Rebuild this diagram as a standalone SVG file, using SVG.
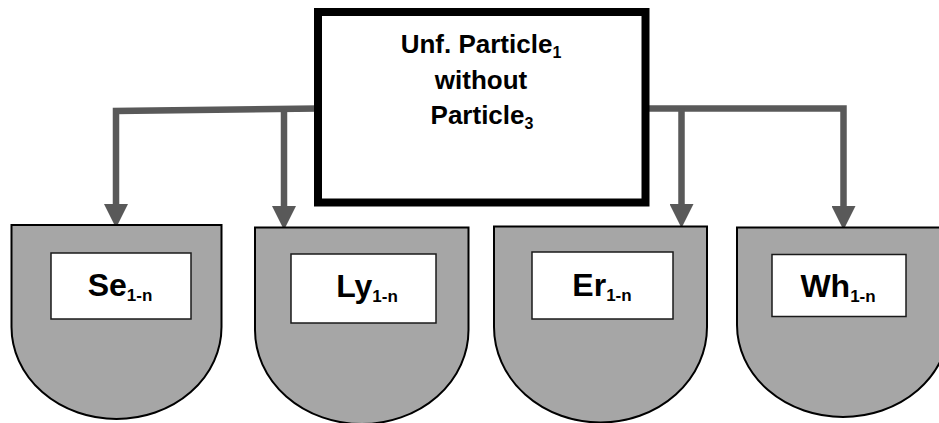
<svg xmlns="http://www.w3.org/2000/svg" width="939" height="423" viewBox="0 0 939 423">
<style>
.shape{fill:#a6a6a6;stroke:#000;stroke-width:2}
.inner{fill:#fff;stroke:#1a1a1a;stroke-width:1.5}
.lbl{font-family:"Liberation Sans",Arial,sans-serif;font-weight:bold;font-size:32px;fill:#000;text-anchor:middle}
.sub{font-size:17px}
.title{font-family:"Liberation Sans",Arial,sans-serif;font-weight:bold;font-size:26px;fill:#000;text-anchor:middle}
.tsub{font-size:16px}
.conn{fill:none;stroke:#595959;stroke-width:6.5;stroke-linejoin:miter}
</style>
<defs>
<marker id="arr" markerUnits="userSpaceOnUse" markerWidth="24" markerHeight="24" viewBox="0 -11 22 22" refX="0" refY="0" orient="auto">
<path d="M0,-11 L22,0 L0,11 Z" fill="#595959"/>
</marker>
</defs>
<g id="connectors">
<path class="conn" d="M318,108.5 L116,111 L116,204" marker-end="url(#arr)"/>
<path class="conn" d="M284,109.5 L284,206" marker-end="url(#arr)"/>
<path class="conn" d="M646,108.5 L843.5,108.5 L843.5,206" marker-end="url(#arr)"/>
<path class="conn" d="M681.5,108.5 L681.5,204" marker-end="url(#arr)"/>
</g>
<g id="root">
<rect x="318" y="12" width="327.5" height="190.5" fill="#fff" stroke="#000" stroke-width="8"/>
<text class="title" x="481" y="53">Unf. Particle<tspan class="tsub" dy="5">1</tspan></text>
<text class="title" x="481" y="89">without</text>
<text class="title" x="482" y="124">Particle<tspan class="tsub" dy="5">3</tspan></text>
</g>
<g id="se">
<path class="shape" d="M11.5,225 H221.5 V327 A105,92 0 0 1 11.5,327 Z"/>
<rect class="inner" x="51" y="253" width="140" height="66"/>
<text class="lbl" x="120" y="296">Se<tspan class="sub" dy="5">1-n</tspan></text>
</g>
<g id="ly">
<path class="shape" d="M255,227.5 H468.5 V330 A106.75,94 0 0 1 255,330 Z"/>
<rect class="inner" x="291" y="254" width="145" height="69"/>
<text class="lbl" x="367" y="297">Ly<tspan class="sub" dy="5">1-n</tspan></text>
</g>
<g id="er">
<path class="shape" d="M494,226.5 H707 V327 A106.5,95.5 0 0 1 494,327 Z"/>
<rect class="inner" x="532" y="252" width="141" height="67"/>
<text class="lbl" x="602" y="296">Er<tspan class="sub" dy="5">1-n</tspan></text>
</g>
<g id="wh">
<path class="shape" d="M737,227.5 H949 V325 A106,92 0 0 1 737,325 Z"/>
<rect class="inner" x="772" y="254.5" width="134" height="62"/>
<text class="lbl" x="838" y="297">Wh<tspan class="sub" dy="5">1-n</tspan></text>
</g>
</svg>
